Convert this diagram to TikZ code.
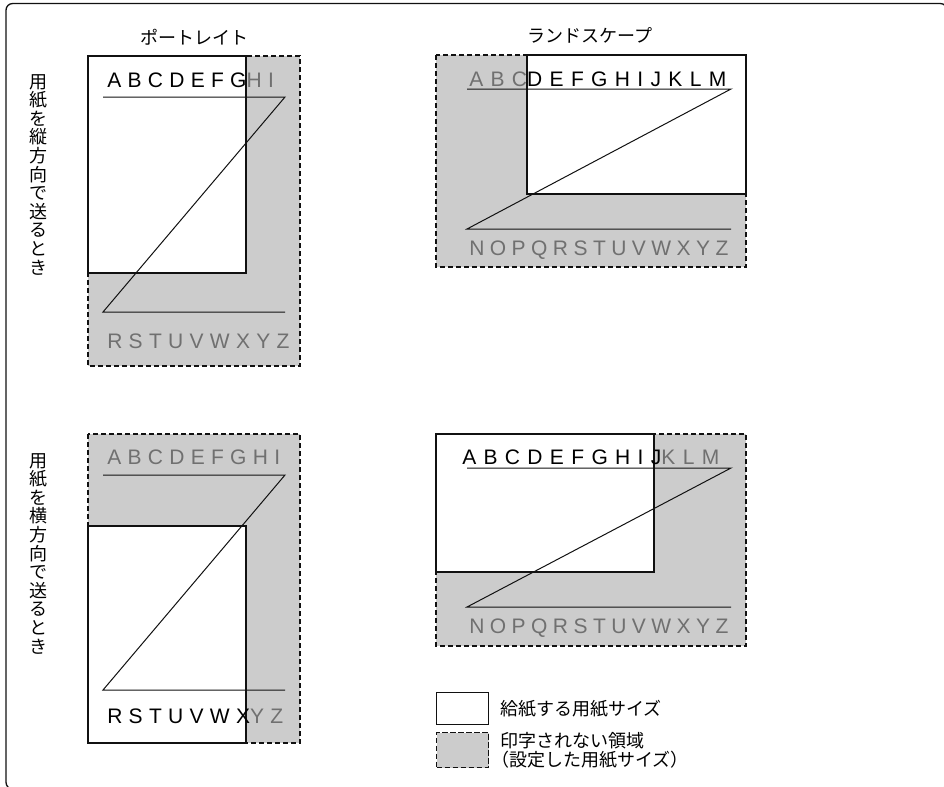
\documentclass[tikz,border=0pt]{standalone}
\usepackage{fontspec}
\newfontfamily\jp{Noto Sans CJK JP}
\newfontfamily\lat[LetterSpace=30]{Liberation Sans}
\newfontfamily\latwide[LetterSpace=35]{Liberation Sans}
\newfontfamily\latnarrow[LetterSpace=26]{Liberation Sans}
\usetikzlibrary{positioning}
\definecolor{Shade}{HTML}{CCCCCC}
\definecolor{Faint}{HTML}{707070}
\definecolor{Ink}{HTML}{111111}
\tikzset{
 sheet/.style={draw=Ink, fill=white, line width=0.85pt},
 margin/.style={draw=Ink, fill=Shade, dash pattern=on 4pt off 2pt, line width=0.85pt},
 zline/.style={draw=Ink, line width=0.75pt, line join=miter},
 letters/.style={anchor=base west, inner sep=0pt, font=\lat\fontsize{15.75}{18}\selectfont},
 wideletters/.style={letters, font=\latwide\fontsize{15.75}{18}\selectfont},
 narrowletters/.style={letters, font=\latnarrow\fontsize{15.75}{18}\selectfont},
 jptitle/.style={inner sep=0pt, font=\jp\fontsize{13.5}{16}\selectfont},
 jpside/.style={inner sep=0pt, align=center, font=\jp\fontsize{13.5}{13.95}\selectfont},
 keybox/.style={minimum width=39pt, inner sep=0pt}
}
\begin{document}
\begin{tikzpicture}[x=0.75pt,y=-0.75pt]
\useasboundingbox (0,0) rectangle (944,786);
\begin{scope}
\clip (0,0) rectangle (944,786);
\draw[draw=Ink, line width=1pt, rounded corners=5pt] (6,3.5) rectangle (947,789);
\end{scope}

\node[jptitle] (portrait) at (194,37) {ポートレイト};
\node[jptitle] (landscape) at (590,35) {ランドスケープ};
\node[jpside] (feedlong) at (38,174.5) {用\\紙\\を\\縦\\方\\向\\で\\送\\る\\と\\き};
\node[jpside] (feedwide) at (38,553.5) {用\\紙\\を\\横\\方\\向\\で\\送\\る\\と\\き};

\draw[margin] (88,56) rectangle (300,366);
\draw[sheet] (88,56) rectangle (246,273);
\node[letters] (tl-head) at (107,87) {ABCDEFG\textcolor{Faint}{HI}};
\node[letters, text=Faint] (tl-foot) at (107,348) {RSTUVWXYZ};
\coordinate (tl-a) at (103,97);
\coordinate (tl-b) at (285,97);
\coordinate (tl-c) at (103,312);
\coordinate (tl-d) at (285,312);
\draw[zline] (tl-a) -- (tl-b) -- (tl-c) -- (tl-d);

\draw[margin] (436,55) rectangle (746,267);
\draw[sheet] (527,55) rectangle (746,194);
\node[wideletters] (tr-head) at (469,86.7) {\textcolor{Faint}{ABC}DEFGHIJKLM};
\node[narrowletters, text=Faint] (tr-foot) at (469,255) {NOPQRSTUVWXYZ};
\coordinate (tr-a) at (467,89);
\coordinate (tr-b) at (731,89);
\coordinate (tr-c) at (467,229);
\coordinate (tr-d) at (731,229);
\draw[zline] (tr-a) -- (tr-b) -- (tr-c) -- (tr-d);

\draw[margin] (88,434) rectangle (300,743);
\draw[sheet] (88,526) rectangle (246,743);
\node[letters, text=Faint] (bl-head) at (107,464.3) {ABCDEFGHI};
\node[letters] (bl-foot) at (107,723) {RSTUVWX\textcolor{Faint}{YZ}};
\coordinate (bl-a) at (103,475);
\coordinate (bl-b) at (285,475);
\coordinate (bl-c) at (103,690);
\coordinate (bl-d) at (285,690);
\draw[zline] (bl-a) -- (bl-b) -- (bl-c) -- (bl-d);

\draw[margin] (436,434) rectangle (746,646);
\draw[sheet] (436,434) rectangle (654,572);
\node[wideletters] (br-head) at (462,464.3) {ABCDEFGHIJ\textcolor{Faint}{KLM}};
\node[narrowletters, text=Faint] (br-foot) at (469,633) {NOPQRSTUVWXYZ};
\coordinate (br-a) at (467,468);
\coordinate (br-b) at (731,468);
\coordinate (br-c) at (467,607);
\coordinate (br-d) at (731,607);
\draw[zline] (br-a) -- (br-b) -- (br-c) -- (br-d);

\node[keybox, sheet, minimum height=24pt, anchor=north west] (fedkey) at (436,692) {};
\node[keybox, margin, minimum height=26.25pt, anchor=north west] (blankkey) at (436,732) {};
\node[jptitle, anchor=west, right=8.25pt of fedkey] (fedtext) {給紙する用紙サイズ};
\node[jptitle, anchor=west, align=left, font=\jp\fontsize{13.5}{14.4}\selectfont, right=8.25pt of blankkey] (blanktext) {印字されない領域\\\hspace*{-0.5em}（設定した用紙サイズ）};
\end{tikzpicture}
\end{document}
